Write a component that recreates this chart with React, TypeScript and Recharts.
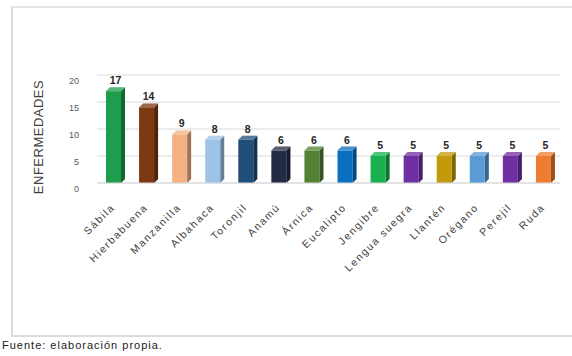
import React from "react";
import {
  BarChart, Bar, XAxis, YAxis, CartesianGrid, Cell, LabelList,
} from "recharts";

// --- datos ---
const plantas = [
  "Sábila", "Hierbabuena", "Manzanilla", "Albahaca", "Toronjil", "Anamú", "Árnica",
  "Eucalipto", "Jengibre", "Lengua suegra", "Llantén", "Orégano", "Perejil", "Ruda",
];
const enfermedades = [17, 14, 9, 8, 8, 6, 6, 6, 5, 5, 5, 5, 5, 5];
const colores = [
  "#1e9e4c", "#7b3a12", "#f4b183", "#9dc3e6", "#1f4e79", "#232b42", "#548235",
  "#0b6fbf", "#19b04f", "#6f2fa0", "#c39a0b", "#5b9bd5", "#6f2fa0", "#ed7d31",
];
const yTicks = [0, 5, 10, 15, 20];

const data = plantas.map((p, i) => ({ planta: p, valor: enfermedades[i] }));

const FONT = "'Liberation Sans', Arial, sans-serif";
const DEPTH = 4;

// barra con un poco de efecto 3D (cara superior y lateral)
function Bar3D(props: any) {
  const { x, y, width, height, fill } = props;
  if (height == null || height <= 0) return null;
  const d = DEPTH;
  const top = `M${x},${y} L${x + d},${y - d} L${x + width + d},${y - d} L${x + width},${y} Z`;
  const side = `M${x + width},${y} L${x + width + d},${y - d} L${x + width + d},${y + height - d} L${x + width},${y + height} Z`;
  return (
    <g>
      <path d={side} fill={fill} />
      <path d={side} fill="#000" fillOpacity={0.35} />
      <path d={top} fill={fill} />
      <path d={top} fill="#fff" fillOpacity={0.25} />
      <rect x={x} y={y} width={width} height={height} fill={fill} />
    </g>
  );
}

function XTick(props: any) {
  const { x, y, payload } = props;
  return (
    <g transform={`translate(${x + 2},${y + 17})`}>
      <text
        textAnchor="end"
        transform="rotate(-45)"
        fontSize={10.5}
        letterSpacing={1.6}
        fill="#3f3f3f"
        fontFamily={FONT}
      >
        {payload.value}
      </text>
    </g>
  );
}

function YTick(props: any) {
  const { x, y, payload } = props;
  return (
    <text x={x - 10} y={y + 9} textAnchor="end" fontSize={9} fill="#595959" fontFamily={FONT}>
      {payload.value}
    </text>
  );
}

function ValueLabel(props: any) {
  const { x, y, width, value } = props;
  return (
    <text
      x={x + width / 2 + 2}
      y={y - DEPTH - 3}
      textAnchor="middle"
      fontSize={10.5}
      fontWeight="bold"
      fill="#262626"
      fontFamily={FONT}
    >
      {value}
    </text>
  );
}

export default function App() {
  return (
    <div style={{ position: "absolute", left: 0, top: 0, width: 572, height: 356, background: "#fff" }}>
      <div
        style={{
          position: "absolute", left: 11, top: 6, width: 570, height: 327,
          borderLeft: "2px solid #dcdcdc", borderTop: "2px solid #e4e4e4", borderBottom: "2px solid #dcdcdc",
        }}
      />
      <div style={{ position: "absolute", left: 0, top: 0 }}>
        <BarChart
          width={572}
          height={340}
          data={data}
          margin={{ top: 75, right: 12, bottom: 57, left: 57 }}
          barCategoryGap={0}
        >
          <CartesianGrid vertical={false} stroke="#d9d9d9" />
          <XAxis
            dataKey="planta"
            interval={0}
            height={100}
            axisLine={{ stroke: "#d9d9d9" }}
            tickLine={false}
            tick={<XTick />}
          />
          <YAxis
            width={40}
            domain={[0, 20]}
            ticks={yTicks}
            axisLine={false}
            tickLine={false}
            tick={<YTick />}
          />
          <Bar dataKey="valor" barSize={15} shape={<Bar3D />} isAnimationActive={false}>
            {data.map((_, i) => (
              <Cell key={i} fill={colores[i]} />
            ))}
            <LabelList dataKey="valor" content={<ValueLabel />} />
          </Bar>
          <text
            x={43}
            y={137}
            transform="rotate(-90 43 137)"
            textAnchor="middle"
            fontSize={13}
            letterSpacing={0.5}
            fill="#404040"
            fontFamily={FONT}
          >
            ENFERMEDADES
          </text>
        </BarChart>
      </div>
      <div
        style={{
          position: "absolute", left: 2, top: 339, fontSize: 11, letterSpacing: 1,
          color: "#222", fontFamily: FONT, whiteSpace: "nowrap",
        }}
      >
        Fuente: elaboración propia.
      </div>
    </div>
  );
}
